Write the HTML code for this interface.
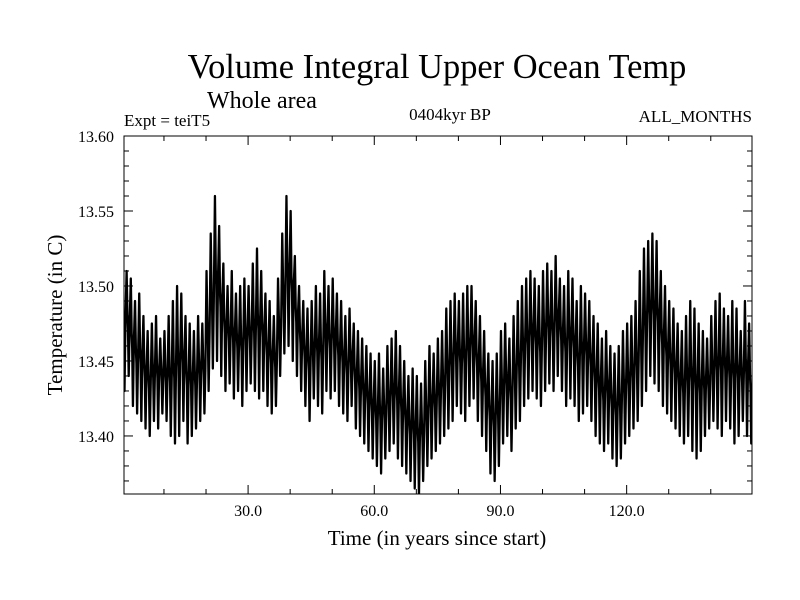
<!DOCTYPE html>
<html><head><meta charset="utf-8"><style>
body{margin:0;background:#fff}
svg{display:block;font-family:"Liberation Serif",serif}
</style></head><body>
<svg width="800" height="600" viewBox="0 0 800 600">
<text x="437" y="78" font-size="34.4" text-anchor="middle">Volume Integral Upper Ocean Temp</text>
<text x="207" y="108" font-size="24">Whole area</text>
<text x="124" y="126" font-size="17">Expt = teiT5</text>
<text x="450" y="120" font-size="17" text-anchor="middle">0404kyr BP</text>
<text x="752" y="122" font-size="17" text-anchor="end">ALL_MONTHS</text>
<text x="437" y="545" font-size="21" text-anchor="middle">Time (in years since start)</text>
<text transform="translate(62,315) rotate(-90)" font-size="21" text-anchor="middle">Temperature (in C)</text>
<defs><clipPath id="pc"><rect x="124" y="136" width="628" height="358"/></clipPath></defs>
<g id="series" clip-path="url(#pc)"></g>
<g id="axes"></g>
<rect x="124" y="136" width="628" height="358" fill="none" stroke="#000" stroke-width="1"/>
</svg>
<script>
const yearMax=[13.525,13.51,13.505,13.49,13.495,13.48,13.47,13.475,13.48,13.465,
13.47,13.48,13.49,13.50,13.495,13.48,13.475,13.47,13.48,13.475,
13.51,13.535,13.56,13.54,13.515,13.50,13.51,13.495,13.50,13.505,
13.50,13.515,13.525,13.51,13.495,13.49,13.48,13.505,13.535,13.56,
13.55,13.52,13.50,13.49,13.485,13.49,13.50,13.495,13.51,13.50,
13.505,13.495,13.49,13.48,13.485,13.475,13.47,13.465,13.46,13.455,
13.45,13.455,13.445,13.46,13.465,13.47,13.46,13.45,13.44,13.445,
13.44,13.435,13.45,13.46,13.455,13.465,13.47,13.485,13.49,13.495,
13.49,13.495,13.50,13.50,13.49,13.48,13.47,13.455,13.45,13.455,
13.47,13.475,13.465,13.48,13.49,13.50,13.505,13.51,13.505,13.50,
13.51,13.515,13.51,13.52,13.505,13.50,13.51,13.505,13.49,13.50,
13.495,13.49,13.48,13.475,13.465,13.47,13.46,13.455,13.46,13.47,
13.475,13.48,13.49,13.51,13.525,13.53,13.535,13.53,13.51,13.50,
13.49,13.485,13.475,13.47,13.48,13.49,13.485,13.475,13.47,13.465,
13.48,13.49,13.495,13.485,13.48,13.49,13.485,13.47,13.49,13.475];
const yearMin=[13.43,13.44,13.42,13.415,13.41,13.405,13.40,13.41,13.405,13.415,
13.41,13.40,13.395,13.40,13.41,13.395,13.40,13.405,13.41,13.415,
13.43,13.445,13.45,13.44,13.43,13.435,13.425,13.43,13.42,13.43,
13.435,13.43,13.425,13.43,13.42,13.415,13.42,13.44,13.455,13.46,
13.45,13.44,13.43,13.42,13.41,13.425,13.42,13.415,13.43,13.425,
13.43,13.42,13.415,13.41,13.42,13.405,13.40,13.395,13.39,13.385,
13.38,13.375,13.385,13.39,13.395,13.385,13.38,13.375,13.37,13.365,
13.36,13.37,13.38,13.385,13.39,13.395,13.40,13.405,13.41,13.42,
13.415,13.41,13.42,13.425,13.41,13.40,13.39,13.375,13.37,13.38,
13.395,13.40,13.39,13.405,13.41,13.42,13.425,13.43,13.425,13.42,
13.43,13.435,13.43,13.44,13.43,13.42,13.425,13.42,13.41,13.415,
13.42,13.41,13.40,13.395,13.39,13.395,13.385,13.38,13.385,13.395,
13.40,13.405,13.41,13.42,13.43,13.44,13.435,13.43,13.42,13.415,
13.41,13.405,13.40,13.395,13.40,13.39,13.385,13.39,13.40,13.405,
13.41,13.405,13.40,13.41,13.405,13.395,13.40,13.41,13.40,13.395];
const yTicks=[13.40,13.45,13.50,13.55,13.60];
const xTicks=[30,60,90,120];
const NS="http://www.w3.org/2000/svg";
const X0=124,X1=752,Y0=136,Y1=494,xmin=0.5,xmax=149.8,ymin=13.3613,ymax=13.6;
const xs=v=>X0+(v-xmin)/(xmax-xmin)*(X1-X0);
const ys=v=>Y1-(v-ymin)/(ymax-ymin)*(Y1-Y0);
let d="";
for(let i=0;i<yearMax.length;i++){
  const mid=(yearMax[i]+yearMin[i])/2;
  d+=(i?"L":"M")+xs(i+0.12).toFixed(2)+","+ys(yearMax[i]).toFixed(2);
  d+="L"+xs(i+0.32).toFixed(2)+","+ys(mid+0.006).toFixed(2);
  d+="L"+xs(i+0.45).toFixed(2)+","+ys(mid-0.004).toFixed(2);
  d+="L"+xs(i+0.62).toFixed(2)+","+ys(yearMin[i]).toFixed(2);
  d+="L"+xs(i+0.85).toFixed(2)+","+ys(mid).toFixed(2);
}
const p=document.createElementNS(NS,"path");
p.setAttribute("d",d);p.setAttribute("fill","none");p.setAttribute("stroke","#000");p.setAttribute("stroke-width","2.3");p.setAttribute("stroke-linejoin","round");


document.getElementById("series").appendChild(p);
const ax=document.getElementById("axes");
function line(x1,y1,x2,y2){const l=document.createElementNS(NS,"line");l.setAttribute("x1",x1);l.setAttribute("y1",y1);l.setAttribute("x2",x2);l.setAttribute("y2",y2);l.setAttribute("stroke","#000");


ax.appendChild(l);}
for(let k=0;k<=23;k++){const v=13.37+k*0.01;if(v>ymax+1e-9)break;const y=ys(v);const major=Math.abs(v*20-Math.round(v*20))<1e-6;const L=major?9:5;line(X0,y,X0+L,y);line(X1,y,X1-L,y);}
for(let v=10;v<150;v+=10){const x=xs(v);const major=v%30===0;const L=major?9:5;line(x,Y1,x,Y1-L);line(x,Y0,x,Y0+L);}
yTicks.forEach(v=>{const t=document.createElementNS(NS,"text");t.setAttribute("x",114);t.setAttribute("y",ys(v)+6);t.setAttribute("font-size","16");t.setAttribute("text-anchor","end");t.textContent=v.toFixed(2);


ax.appendChild(t);});
xTicks.forEach(v=>{const t=document.createElementNS(NS,"text");t.setAttribute("x",xs(v));t.setAttribute("y",516);t.setAttribute("font-size","16");t.setAttribute("text-anchor","middle");t.textContent=v.toFixed(1);


ax.appendChild(t);});
</script>
</body></html>
